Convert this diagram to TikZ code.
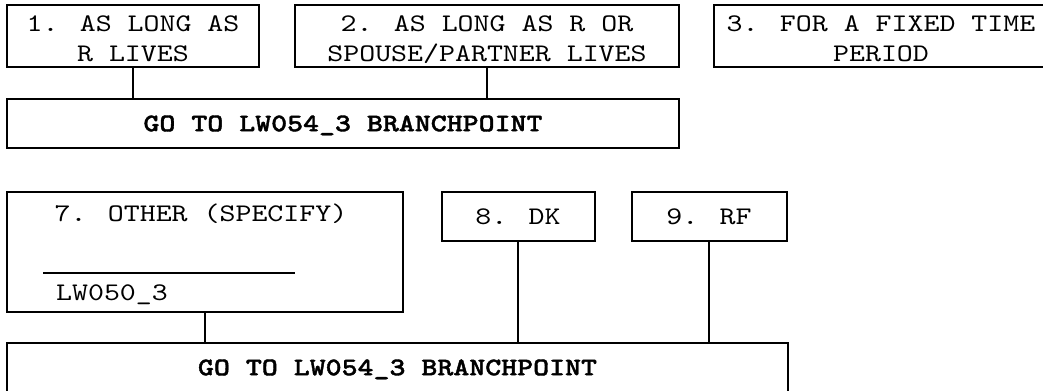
\documentclass[tikz,border=0pt]{standalone}
\usepackage{fontspec}
\newfontfamily\cour{lmmono10-regular}[Extension=.otf,BoldFont=lmmonolt10-bold,BoldFeatures={FakeBold=1.5},FakeStretch=1.2]
\begin{document}
\begin{tikzpicture}[x=0.75pt,y=-0.75pt,
  box/.style={draw,line width=1.5pt,inner sep=0pt,align=center,
    font=\cour\fontsize{19}{22.5}\selectfont},
  twoline/.style={box,text height=37.8pt,text depth=0pt},
  oneline/.style={box,text height=11.6pt,text depth=-1.5pt},
  gobox/.style={oneline,font=\cour\bfseries\fontsize{19}{22.5}\selectfont},
  link/.style={line width=1.5pt},
  txt/.style={inner sep=0pt,font=\cour\fontsize{19}{22.5}\selectfont}]
\useasboundingbox (0,0) rectangle (1043,390);
\clip (0,0) rectangle (1043,390);
\node[twoline,minimum width=189pt,minimum height=46.5pt] (b1) at (133,36) {1. AS LONG AS\\R LIVES};
\node[twoline,minimum width=288pt,minimum height=46.5pt] (b2) at (487,36) {2. AS LONG AS R OR\\SPOUSE/PARTNER LIVES};
\node[twoline,minimum width=250.5pt,minimum height=46.5pt] (b3) at (881,36) {3. FOR A FIXED TIME\\PERIOD};
\node[gobox,minimum width=504pt,minimum height=36.75pt] (g1) at (343,123.5) {GO TO LW054\_3 BRANCHPOINT};
\node[box,minimum width=297pt,minimum height=90pt] (b7) at (205,252) {};
\node[txt] (t7) at (201,214) {7. OTHER (SPECIFY)};
\coordinate (l7a) at (43,273);
\coordinate (l7b) at (295,273);
\draw[line width=1.4pt] (l7a) -- (l7b);
\node[txt] (s7) at (112,295) {LW050\_3};
\node[oneline,minimum width=114.75pt,minimum height=36.75pt] (b8) at (518,216.5) {8. DK};
\node[oneline,minimum width=116.25pt,minimum height=36.75pt] (b9) at (709,216.5) {9. RF};
\node[gobox,minimum width=585.75pt,minimum height=36.75pt] (g2) at (397.5,367.5) {GO TO LW054\_3 BRANCHPOINT};
\draw[link] (b1.south) -- (b1.south |- g1.north);
\draw[link] (b2.south) -- (b2.south |- g1.north);
\draw[link] (b7.south) -- (b7.south |- g2.north);
\draw[link] (b8.south) -- (b8.south |- g2.north);
\draw[link] (b9.south) -- (b9.south |- g2.north);
\end{tikzpicture}
\end{document}
